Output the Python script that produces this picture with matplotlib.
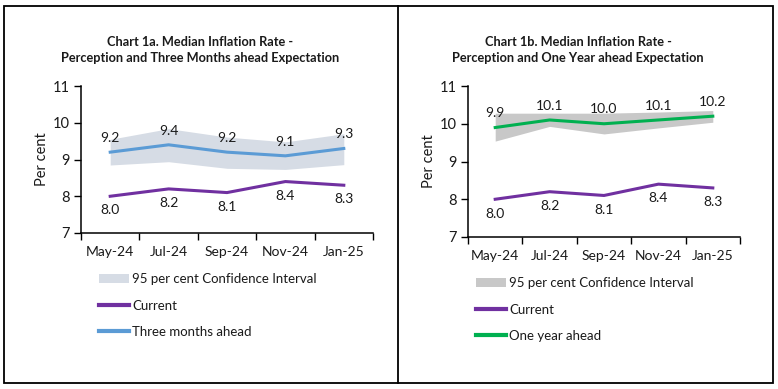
import numpy as np
import matplotlib
matplotlib.use("Agg")
import matplotlib.pyplot as plt
from matplotlib.patches import Rectangle
from matplotlib.lines import Line2D

plt.rcParams['font.family'] = ['Lato', 'DejaVu Sans']

months = ['May-24', 'Jul-24', 'Sep-24', 'Nov-24', 'Jan-25']
current = [8.0, 8.2, 8.1, 8.4, 8.3]

three_month = [9.2, 9.4, 9.2, 9.1, 9.3]
three_month_lo = [8.85, 8.94, 8.76, 8.73, 8.86]
three_month_hi = [9.55, 9.84, 9.61, 9.48, 9.70]

one_year = [9.9, 10.1, 10.0, 10.1, 10.2]
one_year_lo = [9.54, 9.93, 9.73, 9.89, 10.04]
one_year_hi = [10.28, 10.28, 10.28, 10.31, 10.35]

purple = '#7030A0'
blue = '#5B9BD5'
green = '#00B050'
ci_blue = '#D6DCE5'
ci_grey = '#C8C8C8'
txt = '#1a1a1a'

W, H = 778, 389
fig = plt.figure(figsize=(W / 100, H / 100), dpi=100)


def px_axes(x0, y0, x1, y1):
    # pixel box (top-left origin) -> figure axes
    return fig.add_axes([x0 / W, 1 - y1 / H, (x1 - x0) / W, (y1 - y0) / H])


# outer table frame with divider
fig.add_artist(Rectangle((4 / W, 1 - 383 / H), 769 / W, 377 / H, transform=fig.transFigure,
                         fill=False, lw=1.3, ec='black'))
fig.add_artist(Line2D([398 / W, 398 / W], [1 - 383 / H, 1 - 6 / H], transform=fig.transFigure,
                      lw=1.3, color='black'))


def draw_panel(box, title, tcx, line_vals, lo, hi, line_col, ci_col, line_name, leg_xy):
    ax = px_axes(*box)
    x = np.arange(len(months)) + 0.5
    ax.fill_between(x, lo, hi, color=ci_col, lw=0, label='95 per cent Confidence Interval')
    ax.plot(x, current, color=purple, lw=2.2, label='Current')
    ax.plot(x, line_vals, color=line_col, lw=2.2, label=line_name)
    for xi, v in zip(x, current):
        ax.text(xi, v - 0.22, f'{v:.1f}', ha='center', va='top', fontsize=10, color=txt)
    for xi, v in zip(x, line_vals):
        ax.text(xi, v + 0.22, f'{v:.1f}', ha='center', va='bottom', fontsize=10, color=txt)
    ax.set_xlim(0, len(months))
    ax.set_ylim(7, 11)
    ax.set_yticks([7, 8, 9, 10, 11])
    ax.set_xticks(np.arange(len(months) + 1))
    ax.set_xticklabels([])
    ax.set_xticks(x, minor=True)
    ax.set_xticklabels(months, minor=True)
    ax.tick_params(axis='x', which='minor', length=0, pad=9, labelsize=10, labelcolor=txt)
    ax.tick_params(axis='x', which='major', length=5, width=1)
    ax.tick_params(axis='y', length=5, width=1, labelsize=10.5, labelcolor=txt, pad=3)
    for s in ['top', 'right']:
        ax.spines[s].set_visible(False)
    for s in ['left', 'bottom']:
        ax.spines[s].set_linewidth(1.1)
    ax.set_ylabel('Per cent', fontsize=10.5, color=txt, labelpad=3)
    fig.text(tcx / W, 1 - 50 / H, title, ha='center', va='center', fontsize=9.2,
             fontweight='bold', color=txt, linespacing=1.45)
    handles, labels = ax.get_legend_handles_labels()
    leg = fig.legend(handles, labels, loc='upper left',
                     bbox_to_anchor=(leg_xy[0] / W, 1 - leg_xy[1] / H),
                     frameon=False, fontsize=9.5, handlelength=2.3, handleheight=0.7,
                     handletextpad=0.2, labelspacing=1.1, borderaxespad=0, borderpad=0)
    for t in leg.get_texts():
        t.set_color(txt)
    for h in leg.legend_handles[1:]:
        h.set_linewidth(3)
    return ax


draw_panel((81, 86, 373, 233),
           'Chart 1a. Median Inflation Rate -\nPerception and Three Months ahead Expectation',
           200, three_month, three_month_lo, three_month_hi, blue, ci_blue,
           'Three months ahead', (99, 273))
draw_panel((468, 86, 740, 237),
           'Chart 1b. Median Inflation Rate -\nPerception and One Year ahead Expectation',
           578, one_year, one_year_lo, one_year_hi, green, ci_grey,
           'One year ahead', (476, 277))

fig.savefig('out.png', dpi=100)
